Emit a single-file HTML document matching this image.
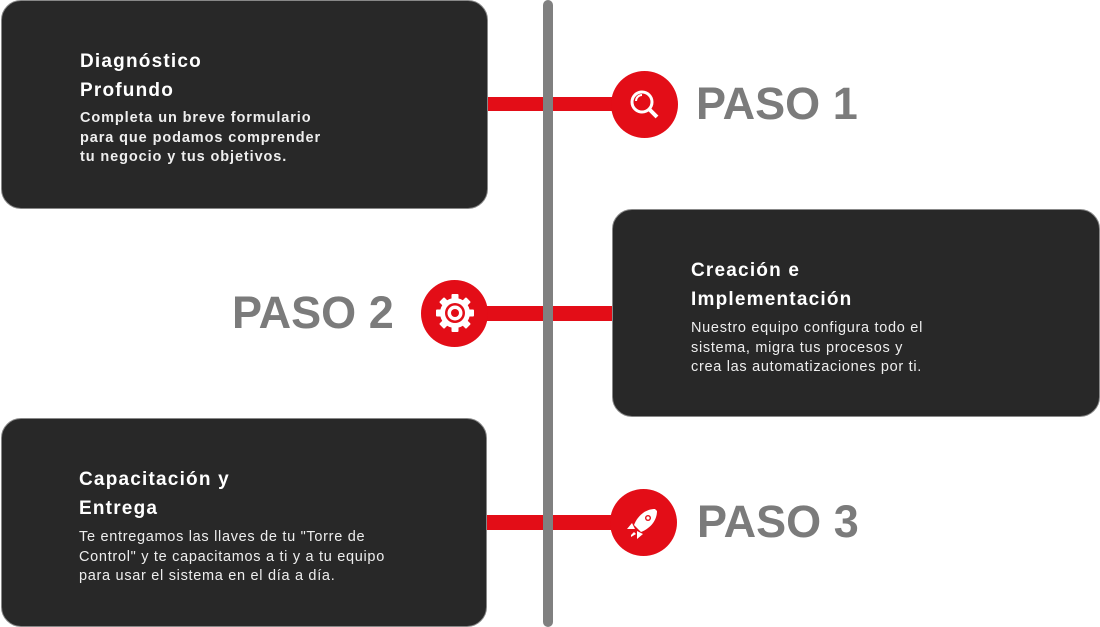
<!DOCTYPE html>
<html><head><meta charset="utf-8"><style>
body{margin:0;width:1100px;height:627px;position:relative;background:#fff;font-family:"Liberation Sans",sans-serif;overflow:hidden}
.card{position:absolute;background:#282828;border-radius:20px;border:1px solid #888;box-sizing:border-box;color:#fff}
.t{position:absolute;font-weight:bold;font-size:19px;line-height:29px;letter-spacing:1.2px;white-space:nowrap}
.b{position:absolute;font-size:14.5px;line-height:19.5px;font-weight:bold;color:#eee;letter-spacing:0.9px;white-space:nowrap}
.b2{font-weight:normal;letter-spacing:0.7px}
.red{position:absolute;background:#e30d17}
.circ{position:absolute;background:#e30d17;border-radius:50%}
.paso{position:absolute;color:#7b7b7b;font-weight:bold;font-size:45px;line-height:46px;letter-spacing:0}
</style></head><body>
<div class="red" style="left:486px;top:97px;width:130px;height:14px"></div>
<div class="red" style="left:485px;top:306px;width:130px;height:15px"></div>
<div class="red" style="left:485px;top:515px;width:130px;height:15px"></div>
<div style="position:absolute;left:543px;top:0;width:10px;height:627px;background:#808080;border-radius:5px"></div>
<div class="card" style="left:1px;top:0;width:487px;height:209px">
<div class="t" style="left:78px;top:46px">Diagnóstico<br>Profundo</div>
<div class="b" style="left:78px;top:108px">Completa un breve formulario<br>para que podamos comprender<br>tu negocio y tus objetivos.</div></div>
<div class="card" style="left:612px;top:209px;width:488px;height:208px">
<div class="t" style="left:78px;top:46px">Creación e<br>Implementación</div>
<div class="b b2" style="left:78px;top:109px">Nuestro equipo configura todo el<br>sistema, migra tus procesos y<br>crea las automatizaciones por ti.</div></div>
<div class="card" style="left:1px;top:418px;width:486px;height:209px">
<div class="t" style="left:77px;top:46px">Capacitación y<br>Entrega</div>
<div class="b b2" style="left:77px;top:109px">Te entregamos las llaves de tu "Torre de<br>Control" y te capacitamos a ti y a tu equipo<br>para usar el sistema en el día a día.</div></div>
<div class="circ" style="left:611px;top:71px;width:67px;height:67px">
<svg width="67" height="67"><circle cx="31" cy="31" r="10" fill="none" stroke="#fff" stroke-width="3"/><path d="M25 30a6 6 0 0 1 6-6" stroke="#fff" stroke-width="2" fill="none"/><line x1="38" y1="38" x2="46" y2="46" stroke="#fff" stroke-width="4"/></svg></div>
<div class="circ" style="left:421px;top:280px;width:67px;height:67px">
<svg width="67" height="67"><g transform="translate(34,33)" fill="#fff"><circle r="15"/><g id="g"><rect x="-3.5" y="-19" width="7" height="7" rx="1"/></g><use href="#g" transform="rotate(45)"/><use href="#g" transform="rotate(90)"/><use href="#g" transform="rotate(135)"/><use href="#g" transform="rotate(180)"/><use href="#g" transform="rotate(225)"/><use href="#g" transform="rotate(270)"/><use href="#g" transform="rotate(315)"/><circle r="10" fill="#e30d17"/><circle r="7.5" fill="#fff"/><circle r="4" fill="#e30d17"/></g></svg></div>
<div class="circ" style="left:610px;top:489px;width:67px;height:67px">
<svg width="67" height="67" fill="#fff"><path d="M45 20 C36 20 28 26 24 36 L31 43 C41 39 47 31 47 22 Z"/><circle cx="38" cy="29" r="3" fill="#e30d17"/><circle cx="38" cy="29" r="1.6" fill="#fff"/><path d="M22 34 L17 40 L25 40Z M33 45 L27 50 L27 42Z M21 46 L24 43 L26 45 L21 48Z"/></svg></div>
<div class="paso" style="left:696px;top:81px">PASO 1</div>
<div class="paso" style="left:232px;top:290px">PASO 2</div>
<div class="paso" style="left:697px;top:499px">PASO 3</div>
</body></html>
